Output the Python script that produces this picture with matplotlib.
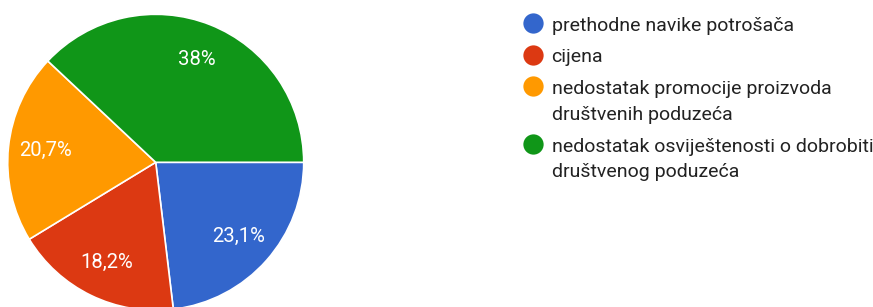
import matplotlib
matplotlib.use("Agg")
import matplotlib.pyplot as plt

categories = ["prethodne navike potrošača", "cijena",
              "nedostatak promocije proizvoda\ndruštvenih poduzeća",
              "nedostatak osviještenosti o dobrobiti\ndruštvenog poduzeća"]
values = [23.1, 18.2, 20.7, 38.0]
pct_labels = ["23,1%", "18,2%", "20,7%", "38%"]
colors = ["#3366CC", "#DC3912", "#FF9900", "#109618"]

plt.rcParams['font.family'] = ['Roboto', 'DejaVu Sans']

W, H = 873, 307
fig = plt.figure(figsize=(W / 100, H / 100), dpi=100)
fig.patch.set_facecolor("white")

cx, cy, r = 155.7, 162.3, 148.0
ax = fig.add_axes([(cx - r) / W, (H - cy - r) / H, 2 * r / W, 2 * r / H])
wedges, texts = ax.pie(values, colors=colors, startangle=0, counterclock=False,
                       radius=1.0, labels=pct_labels, labeldistance=0.75,
                       wedgeprops=dict(edgecolor="white", linewidth=1.2),
                       textprops=dict(color="white", fontsize=14.6))
for t in texts:
    t.set_ha("center")
    t.set_va("center")
ax.set_xlim(-1, 1)
ax.set_ylim(-1, 1)
ax.set_aspect("equal")
ax.axis("off")

# legend
lax = fig.add_axes([0, 0, 1, 1])
lax.set_xlim(0, W)
lax.set_ylim(H, 0)
lax.axis("off")
lax.patch.set_alpha(0)
ys = [23.3, 54.5, 86, 143.5]
for y, c, lab in zip(ys, colors, categories):
    lax.plot([533.3], [y], marker="o", markersize=14.6, color=c, markeredgewidth=0)
    for i, line in enumerate(lab.split("\n")):
        lax.text(551.5, y + 8 + i * 25.5, line, fontsize=14, color="#222222",
                 va="baseline", ha="left")

fig.savefig("out.png", dpi=100)
